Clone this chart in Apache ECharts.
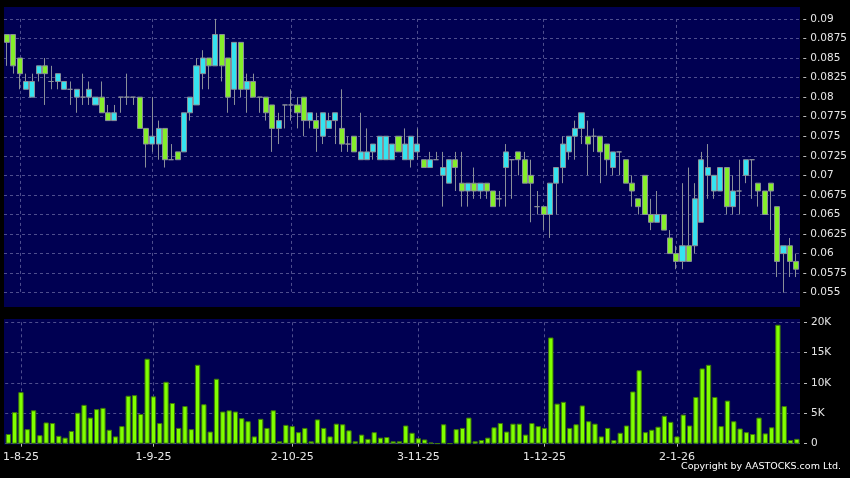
<!DOCTYPE html>
<html>
<head>
<meta charset="utf-8">
<script src="https://cdn.jsdelivr.net/npm/echarts@6/dist/echarts.min.js"></script>
<style>
html,body{margin:0;padding:0;background:#000;}
#c{width:850px;height:478px;}
</style>
</head>
<body>
<div id="c"></div>
<script>
// Trading days (d-m-yy)
var dates = [
"30-7-25","31-7-25",
"1-8-25","4-8-25","5-8-25","6-8-25","7-8-25","8-8-25","11-8-25","12-8-25","13-8-25","14-8-25","15-8-25","18-8-25","19-8-25","20-8-25","21-8-25","22-8-25","25-8-25","26-8-25","27-8-25","28-8-25","29-8-25",
"1-9-25","2-9-25","3-9-25","4-9-25","5-9-25","8-9-25","9-9-25","10-9-25","11-9-25","12-9-25","15-9-25","16-9-25","17-9-25","18-9-25","19-9-25","22-9-25","23-9-25","24-9-25","25-9-25","26-9-25","29-9-25","30-9-25",
"2-10-25","3-10-25","6-10-25","8-10-25","9-10-25","10-10-25","13-10-25","14-10-25","15-10-25","16-10-25","17-10-25","20-10-25","21-10-25","22-10-25","23-10-25","24-10-25","27-10-25","28-10-25","30-10-25","31-10-25",
"3-11-25","4-11-25","5-11-25","6-11-25","7-11-25","10-11-25","11-11-25","12-11-25","13-11-25","14-11-25","17-11-25","18-11-25","19-11-25","20-11-25","21-11-25","24-11-25","25-11-25","26-11-25","27-11-25","28-11-25",
"1-12-25","2-12-25","3-12-25","4-12-25","5-12-25","8-12-25","9-12-25","10-12-25","11-12-25","12-12-25","15-12-25","16-12-25","17-12-25","18-12-25","19-12-25","22-12-25","23-12-25","24-12-25","29-12-25","30-12-25","31-12-25",
"2-1-26","5-1-26","6-1-26","7-1-26","8-1-26","9-1-26","12-1-26","13-1-26","14-1-26","15-1-26","16-1-26","19-1-26","20-1-26","21-1-26","22-1-26","23-1-26","26-1-26","27-1-26","28-1-26","29-1-26"
];
var tickLabels = ["1-8-25","1-9-25","2-10-25","3-11-25","1-12-25","2-1-26"];

var opens = [
0.088,0.088,0.085,0.081,0.080,0.083,0.084,0.082,0.082,0.081,
0.081,0.080,0.080,0.080,0.079,0.080,0.078,0.077,0.080,0.080,
0.080,0.080,0.076,0.074,0.074,0.076,0.072,0.073,0.073,0.078,
0.079,0.083,0.085,0.084,0.088,0.085,0.081,0.087,0.081,0.082,
0.080,0.080,0.079,0.076,0.079,0.079,0.079,0.080,0.077,0.077,
0.075,0.076,0.077,0.076,0.074,0.075,0.072,0.072,0.073,0.072,
0.072,0.072,0.075,0.072,0.072,0.073,0.072,0.071,0.072,0.070,
0.069,0.072,0.069,0.068,0.069,0.068,0.069,0.068,0.067,0.071,
0.072,0.073,0.072,0.070,0.066,0.066,0.065,0.069,0.071,0.073,
0.075,0.076,0.075,0.075,0.075,0.074,0.071,0.073,0.072,0.069,
0.067,0.070,0.065,0.064,0.065,0.062,0.060,0.059,0.061,0.061,
0.064,0.070,0.068,0.068,0.071,0.066,0.068,0.070,0.072,0.069,
0.068,0.069,0.066,0.060,0.061,0.059
];
var closes = [
0.087,0.084,0.083,0.082,0.082,0.084,0.083,0.082,0.083,0.082,
0.081,0.081,0.080,0.081,0.080,0.078,0.077,0.078,0.080,0.080,
0.080,0.076,0.074,0.075,0.076,0.072,0.072,0.072,0.078,0.080,
0.084,0.085,0.084,0.088,0.084,0.080,0.087,0.081,0.082,0.080,
0.080,0.078,0.076,0.077,0.079,0.079,0.078,0.077,0.078,0.076,
0.078,0.077,0.078,0.074,0.074,0.073,0.073,0.073,0.074,0.075,
0.075,0.074,0.073,0.074,0.075,0.074,0.071,0.072,0.072,0.071,
0.072,0.071,0.068,0.069,0.068,0.069,0.068,0.066,0.067,0.073,
0.072,0.072,0.069,0.069,0.066,0.065,0.069,0.071,0.074,0.075,
0.076,0.078,0.074,0.075,0.073,0.072,0.073,0.073,0.069,0.068,
0.066,0.065,0.064,0.065,0.063,0.060,0.059,0.061,0.059,0.067,
0.072,0.071,0.070,0.071,0.066,0.068,0.068,0.072,0.072,0.068,
0.065,0.068,0.059,0.061,0.059,0.058
];
var lows = [
0.084,0.083,0.081,0.081,0.080,0.082,0.079,0.081,0.081,0.081,
0.079,0.078,0.079,0.079,0.079,0.078,0.077,0.077,0.078,0.079,
0.079,0.076,0.071,0.073,0.072,0.071,0.072,0.072,0.073,0.077,
0.079,0.081,0.081,0.084,0.082,0.078,0.079,0.080,0.078,0.080,
0.078,0.077,0.073,0.074,0.076,0.077,0.076,0.075,0.076,0.073,
0.074,0.076,0.074,0.073,0.073,0.073,0.072,0.072,0.072,0.072,
0.072,0.072,0.073,0.072,0.071,0.072,0.071,0.071,0.072,0.066,
0.069,0.068,0.066,0.066,0.067,0.067,0.067,0.066,0.066,0.066,
0.067,0.070,0.069,0.064,0.065,0.063,0.062,0.065,0.069,0.072,
0.072,0.074,0.070,0.073,0.069,0.070,0.070,0.070,0.069,0.066,
0.065,0.065,0.063,0.064,0.063,0.060,0.058,0.058,0.059,0.060,
0.064,0.067,0.067,0.068,0.065,0.065,0.065,0.069,0.067,0.066,
0.065,0.063,0.057,0.055,0.057,0.057
];
var highs = [
0.088,0.088,0.085,0.083,0.083,0.084,0.085,0.084,0.083,0.082,
0.082,0.081,0.083,0.082,0.080,0.082,0.079,0.079,0.080,0.083,
0.080,0.080,0.076,0.080,0.077,0.076,0.074,0.073,0.078,0.080,
0.085,0.086,0.085,0.090,0.088,0.085,0.087,0.087,0.083,0.083,
0.080,0.080,0.079,0.078,0.079,0.081,0.080,0.080,0.078,0.078,
0.078,0.078,0.078,0.081,0.075,0.075,0.078,0.076,0.074,0.075,
0.075,0.074,0.075,0.076,0.075,0.076,0.072,0.073,0.073,0.073,
0.072,0.073,0.073,0.069,0.071,0.069,0.069,0.068,0.068,0.074,
0.072,0.073,0.073,0.072,0.068,0.066,0.069,0.071,0.075,0.075,
0.077,0.078,0.077,0.076,0.075,0.074,0.073,0.073,0.072,0.070,
0.067,0.070,0.067,0.068,0.065,0.063,0.061,0.069,0.071,0.069,
0.073,0.074,0.070,0.071,0.071,0.070,0.072,0.072,0.072,0.069,
0.068,0.069,0.066,0.061,0.062,0.060
];
var volumes = [
1600,5200,8500,2400,5500,1400,3500,3400,1300,1000,
2100,5100,6400,4300,5700,5900,2300,1200,2900,7900,
8000,4900,14000,7800,3400,10200,6700,2600,6200,2400,
13000,6500,2000,10700,5300,5500,5300,4200,3700,1200,
4100,2600,5500,400,3100,2900,1900,2600,400,4000,
2600,1200,3300,3200,2200,400,1500,800,1900,1000,
1100,400,400,3000,1800,900,700,200,50,3200,
50,2400,2600,4300,400,600,1000,2700,3400,2000,
3300,3300,1500,3400,2900,2600,17500,6600,6900,2600,
3200,6300,3700,3300,1200,2600,600,1800,3000,8600,
12100,1900,2300,2800,4600,3600,1200,4800,3000,7700,
12400,13000,7700,2900,7100,3700,2500,1900,1600,4300,
1700,2700,19600,6200,600,800
];

var NAVY = '#000052';
var GRIDC = '#4e4e8e';
var TXT = '#e6e6e6';
var FONT = 'DejaVu Sans';

function isTick(idx, val) { return tickLabels.indexOf(dates[idx]) >= 0; }

var candles = dates.map(function (d, i) { return [opens[i], closes[i], lows[i], highs[i]]; });

var chart = echarts.init(document.getElementById('c'), null, {renderer: 'canvas'});
chart.setOption({
  backgroundColor: '#000000',
  animation: false,
  title: {
    text: 'Copyright by AASTOCKS.com Ltd.',
    right: 4, bottom: 1,
    textStyle: {color: '#ffffff', fontSize: 9.5, fontWeight: 'normal', fontFamily: FONT}
  },
  graphic: {
    elements: [
      {type: 'rect', z: -100, silent: true, shape: {x: 4, y: 7, width: 796, height: 300}, style: {fill: NAVY}},
      {type: 'rect', z: -100, silent: true, shape: {x: 4, y: 319, width: 796, height: 125.5}, style: {fill: NAVY}}
    ]
  },
  grid: [
    {left: 4, top: 18.9, width: 796, height: 273.8},
    {left: 4, top: 322.3, width: 796, height: 121.4}
  ],
  xAxis: [
    {
      type: 'category', gridIndex: 0, data: dates, boundaryGap: true,
      axisLine: {show: false}, axisTick: {show: false}, axisLabel: {show: false},
      splitLine: {show: true, interval: isTick, alignWithLabel: true, lineStyle: {color: GRIDC, type: [3, 3], width: 1}}
    },
    {
      type: 'category', gridIndex: 1, data: dates, boundaryGap: true, offset: 2,
      axisLine: {show: false},
      axisTick: {show: true, interval: isTick, alignWithLabel: true, length: 3, lineStyle: {color: '#bbbbbb'}},
      axisLabel: {show: true, interval: isTick, color: TXT, fontSize: 11, fontFamily: FONT, margin: 6},
      splitLine: {show: true, interval: isTick, alignWithLabel: true, lineStyle: {color: GRIDC, type: [3, 3], width: 1}}
    }
  ],
  yAxis: [
    {
      type: 'value', gridIndex: 0, position: 'right', offset: 4,
      min: 0.055, max: 0.09, interval: 0.0025,
      axisLine: {show: false},
      axisTick: {show: true, length: 3, lineStyle: {color: '#bbbbbb'}},
      axisLabel: {color: TXT, fontSize: 10.5, fontFamily: FONT, margin: 7,
        formatter: function (v) { return String(parseFloat(v.toFixed(4))); }},
      splitLine: {show: true, lineStyle: {color: GRIDC, type: [3, 3], width: 1}}
    },
    {
      type: 'value', gridIndex: 1, position: 'right', offset: 4,
      min: 0, max: 20000, interval: 5000,
      axisLine: {show: false},
      axisTick: {show: true, length: 3, lineStyle: {color: '#bbbbbb'}},
      axisLabel: {color: TXT, fontSize: 10.5, fontFamily: FONT, margin: 7,
        formatter: function (v) { return v === 0 ? '0' : (v / 1000) + 'K'; }},
      splitLine: {show: true, lineStyle: {color: GRIDC, type: [3, 3], width: 1}}
    }
  ],
  series: [
    {
      type: 'candlestick', xAxisIndex: 0, yAxisIndex: 0, data: candles,
      barWidth: '88%',
      itemStyle: {color: '#35e3f0', color0: '#84ee2a', borderColor: '#8a8f98', borderColor0: '#8a8f98', borderColorDoji: '#8a8f98', borderWidth: 1}
    },
    {
      type: 'bar', xAxisIndex: 1, yAxisIndex: 1, data: volumes,
      barWidth: '84%',
      itemStyle: {color: '#80ff00', borderColor: '#3f7a08', borderWidth: 1}
    }
  ]
});
</script>
</body>
</html>
